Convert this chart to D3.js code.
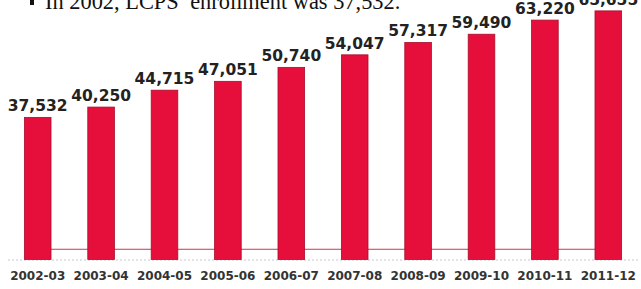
<!DOCTYPE html>
<html><head><meta charset="utf-8">
<script src="https://cdn.jsdelivr.net/npm/d3@7"></script>
<style>html,body{margin:0;padding:0;background:#fff;overflow:hidden}</style>
</head><body>
<svg id="chart" width="641" height="289"></svg>
<script>
const categories = ["2002-03","2003-04","2004-05","2005-06","2006-07","2007-08","2008-09","2009-10","2010-11","2011-12"];
const enrollment = [37532,40250,44715,47051,50740,54047,57317,59490,63220,65655];
const baseLine = [2700,2700,2700,2700,2700,2700,2700,2700,2700,2700];
const titleText = "In 2002, LCPS’  enrollment was 37,532.";

const svg = d3.select("#chart");
const x = d3.scaleBand().domain(categories).range([6,640]).paddingInner(0.58).paddingOuter(0.29);
const y = d3.scaleLinear().domain([0,68000]).range([259.5,2]);

// title bullet text (cut at top)
svg.append("rect").attr("x",30).attr("y",0).attr("width",4).attr("height",5).attr("fill","#111");
svg.append("text").attr("x",45).attr("y",9).attr("font-family","Liberation Serif, Times New Roman, serif")
  .attr("font-size",22.4).attr("fill","#111").text(titleText);

// gray dotted baseline
svg.append("line").attr("x1",8).attr("x2",640).attr("y1",y(0)+0.5).attr("y2",y(0)+0.5)
  .attr("stroke","#c8c8c8").attr("stroke-width",1).attr("stroke-dasharray","2,2");

// thin red line series
const line = d3.line().x((d,i)=>x(categories[i])+x.bandwidth()/2).y(d=>y(d));
svg.append("path").datum(baseLine).attr("d",line).attr("fill","none")
  .attr("stroke","#d8334f").attr("stroke-width",1);

// bars
svg.selectAll("rect.bar").data(enrollment).join("rect").attr("class","bar")
  .attr("x",(d,i)=>x(categories[i])).attr("width",x.bandwidth())
  .attr("y",d=>y(d)).attr("height",d=>y(0)-y(d))
  .attr("fill","#e60e3a").attr("stroke","#a90f2c").attr("stroke-width",0.8);

// value labels
svg.selectAll("text.val").data(enrollment).join("text").attr("class","val")
  .attr("x",(d,i)=>x(categories[i])+x.bandwidth()/2).attr("y",d=>y(d)-6)
  .attr("text-anchor","middle").attr("font-family","DejaVu Sans, Verdana, sans-serif")
  .attr("font-weight","bold").attr("font-size",15.5).attr("fill","#222")
  .text(d=>d3.format(",")(d));

// x axis labels
const xAxis = d3.axisBottom(x).tickSize(0).tickPadding(0);
const gx = svg.append("g").attr("transform","translate(0,271)").call(xAxis);
gx.select(".domain").remove();
gx.selectAll("text").attr("font-family","DejaVu Sans, Verdana, sans-serif")
  .attr("font-weight","bold").attr("font-size",12).attr("fill","#333").attr("dy","0.71em");
</script>
</body></html>
